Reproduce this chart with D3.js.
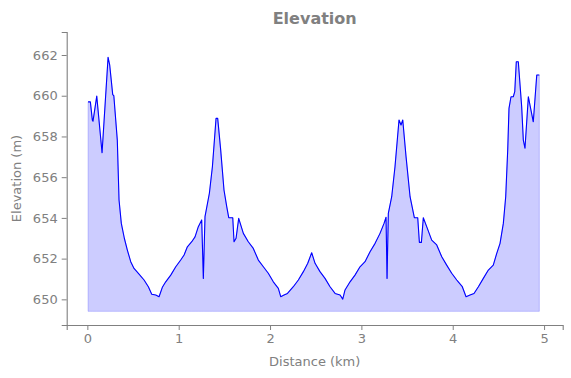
<!DOCTYPE html>
<html lang="en">
<head>
<meta charset="UTF-8">
<title>Elevation</title>
<script src="https://d3js.org/d3.v7.min.js"></script>
<style>
  body { margin: 0; background: #fff; }
  text { font-family: "DejaVu Sans", sans-serif; }
</style>
</head>
<body>
<svg width="571" height="378"></svg>
<script>
    // distance along the track (km)
    const distance = [
        0.008, 0.033, 0.055, 0.062, 0.103, 0.161, 0.227, 0.245, 0.278, 0.290, 0.328, 0.347, 0.372, 0.405,
        0.438, 0.475, 0.511, 0.566, 0.621, 0.668, 0.705, 0.749, 0.785, 0.821, 0.858, 0.913, 0.968,
        1.022, 1.059, 1.095, 1.143, 1.179, 1.215, 1.252, 1.270, 1.288, 1.336, 1.369, 1.409, 1.427,
        1.460, 1.496, 1.526, 1.548, 1.592, 1.606, 1.628, 1.657, 1.708, 1.762, 1.817, 1.872, 1.927,
        1.981, 2.036, 2.091, 2.117, 2.153, 2.191, 2.255, 2.310, 2.365, 2.413, 2.456, 2.493, 2.547,
        2.602, 2.657, 2.712, 2.767, 2.796, 2.821, 2.876, 2.930, 2.985, 3.040, 3.095, 3.150, 3.204,
        3.248, 3.270, 3.281, 3.295, 3.332, 3.368, 3.412, 3.434, 3.453, 3.489, 3.533, 3.580, 3.617,
        3.635, 3.657, 3.678, 3.715, 3.770, 3.825, 3.880, 3.934, 3.989, 4.044, 4.061, 4.105, 4.146,
        4.189, 4.233, 4.281, 4.335, 4.390, 4.444, 4.482, 4.518, 4.554, 4.580, 4.602, 4.616, 4.638,
        4.663, 4.679, 4.696, 4.718, 4.755, 4.773, 4.791, 4.828, 4.882, 4.920, 4.948
    ];
    // elevation (m)
    const elevation = [
        659.70, 659.70, 658.80, 658.75, 659.98, 657.20, 661.89, 661.50, 660.05, 660.00, 657.82, 654.88, 653.73, 653.00,
        652.42, 651.85, 651.52, 651.24, 650.95, 650.62, 650.25, 650.21, 650.13, 650.59, 650.86, 651.19, 651.60,
        651.93, 652.18, 652.58, 652.83, 653.07, 653.57, 653.90, 651.03, 654.06, 655.21, 656.51, 658.89, 658.89,
        657.33, 655.37, 654.55, 654.01, 654.01, 652.83, 653.00, 653.98, 653.24, 652.83, 652.50, 651.93, 651.60,
        651.28, 650.86, 650.54, 650.13, 650.21, 650.29, 650.62, 650.95, 651.36, 651.77, 652.29, 651.77, 651.36,
        651.03, 650.62, 650.29, 650.21, 650.01, 650.46, 650.86, 651.19, 651.60, 651.85, 652.34, 652.75, 653.24,
        653.73, 654.03, 651.03, 654.22, 655.04, 656.51, 658.81, 658.56, 658.81, 657.01, 655.04, 654.01, 654.01,
        652.80, 652.80, 654.01, 653.57, 652.91, 652.67, 652.09, 651.68, 651.28, 650.95, 650.86, 650.62, 650.13,
        650.21, 650.29, 650.62, 651.03, 651.44, 651.68, 652.26, 652.75, 653.73, 655.04, 657.33, 659.38, 659.95,
        659.95, 660.20, 661.67, 661.67, 659.46, 657.82, 657.42, 659.95, 658.72, 661.02, 661.02
    ];
    const baseline = 649.41;
    const xTicks = [0, 1, 2, 3, 4, 5];
    const yTicks = [650, 652, 654, 656, 658, 660, 662];

    const svg = d3.select("svg");
    const margin = {left: 66.7, right: 8.3, top: 32, bottom: 53};
    const W = 571, H = 378;
    const gray = "#808080";

    const x = d3.scaleLinear().domain([-0.226, 5.204]).range([margin.left, W - margin.right]);
    const y = d3.scaleLinear().domain([648.74, 663.13]).range([H - margin.bottom, margin.top]);

    const data = distance.map((d, i) => ({d: d, e: elevation[i]}));

    const area = d3.area().x(p => x(p.d)).y0(y(baseline)).y1(p => y(p.e));
    const line = d3.line().x(p => x(p.d)).y(p => y(p.e));

    svg.append("path")
        .datum(data)
        .attr("d", area)
        .attr("fill", "rgba(0,0,255,0.2)")
        .attr("stroke", "rgba(0,0,255,0.2)")
        .attr("stroke-width", 1);

    svg.append("path")
        .datum(data)
        .attr("d", line)
        .attr("fill", "none")
        .attr("stroke", "#0000ff")
        .attr("stroke-width", 1.1)
        .attr("stroke-linejoin", "round");

    // axes
    const xAxis = svg.append("g")
        .attr("transform", `translate(0,${H - margin.bottom})`)
        .call(d3.axisBottom(x).tickValues(xTicks).tickFormat(d3.format("d")).tickSizeOuter(0).tickSize(5).tickPadding(4));
    const yAxis = svg.append("g")
        .attr("transform", `translate(${margin.left},0)`)
        .call(d3.axisLeft(y).tickValues(yTicks).tickFormat(d3.format("d")).tickSizeOuter(0).tickSize(5).tickPadding(4));

    [xAxis, yAxis].forEach(a => {
        a.select(".domain").attr("stroke", gray).attr("stroke-width", 1.1);
        a.selectAll(".tick line").attr("stroke", gray).attr("stroke-width", 1);
        a.selectAll(".tick text").attr("fill", gray).style("font-size", "13px")
            .style("font-family", "DejaVu Sans, sans-serif");
    });

    svg.append("text")
        .attr("x", (margin.left + W - margin.right) / 2)
        .attr("y", 24)
        .attr("text-anchor", "middle")
        .attr("fill", gray)
        .style("font-size", "16px")
        .style("font-weight", "bold")
        .text("Elevation");

    svg.append("text")
        .attr("x", (margin.left + W - margin.right) / 2)
        .attr("y", 366)
        .attr("text-anchor", "middle")
        .attr("fill", gray)
        .style("font-size", "13px")
        .text("Distance (km)");

    svg.append("text")
        .attr("transform", `translate(21,${(margin.top + H - margin.bottom) / 2}) rotate(-90)`)
        .attr("text-anchor", "middle")
        .attr("fill", gray)
        .style("font-size", "13px")
        .text("Elevation (m)");
</script>
</body>
</html>
